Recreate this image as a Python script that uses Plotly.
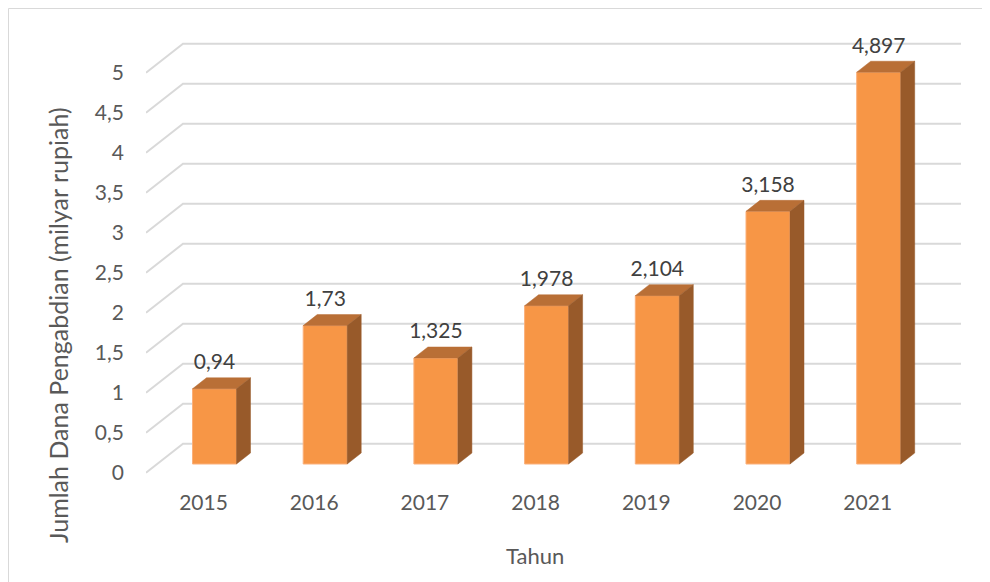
import plotly.graph_objects as go

# ---- data ----
years = ["2015", "2016", "2017", "2018", "2019", "2020", "2021"]
dana = [0.94, 1.73, 1.325, 1.978, 2.104, 3.158, 4.897]
y_ticks = [0, 0.5, 1, 1.5, 2, 2.5, 3, 3.5, 4, 4.5, 5]
y_ticktext = ["0", "0,5", "1", "1,5", "2", "2,5", "3", "3,5", "4", "4,5", "5"]
labels = [str(v).replace(".", ",") for v in dana]

# ---- pseudo-3D geometry (in axis units) ----
X0, X1 = -0.5194, 6.879      # x range (front plane)
Y0, Y1 = -0.166, 5.659       # y range (front plane)
WDX, WDY = 0.3342, 0.3625    # back wall offset
WALL_END = 6.843
BOFF_X, BOFF_Y = 0.0994, 0.109   # bar front offset from front plane
BW = 0.3975                  # bar front width
DDX, DDY = 0.1265, 0.1375    # bar depth offset

FRONT = "#F79646"
FRONT_EDGE = "#FBB07A"
TOP = "#B96F36"
SIDE = "#985A2A"
GRID = "#D9D9D9"
TXT = "#595959"
FONT = "Lato, Calibri, sans-serif"

xi = list(range(len(years)))

# gridlines (diagonal + back wall)
gx, gy = [], []
for t in y_ticks:
    gx += [X0, X0 + WDX, WALL_END, None]
    gy += [t, t + WDY, t + WDY, None]

# front, top and side faces
fx, fy, tx, ty, sx, sy = [], [], [], [], [], []
for i, v in zip(xi, dana):
    xl = i + BOFF_X - BW / 2
    xr = i + BOFF_X + BW / 2
    top = v + BOFF_Y
    fx += [xl, xr, xr, xl, xl, None]
    fy += [BOFF_Y, BOFF_Y, top, top, BOFF_Y, None]
    tx += [xl, xr, xr + DDX, xl + DDX, xl, None]
    ty += [top, top, top + DDY, top + DDY, top, None]
    sx += [xr, xr, xr + DDX, xr + DDX, xr, None]
    sy += [BOFF_Y, top, top + DDY, BOFF_Y + DDY, BOFF_Y, None]

fig = go.Figure()
fig.add_trace(go.Scatter(x=gx, y=gy, mode="lines", line=dict(color=GRID, width=2),
                         hoverinfo="skip", showlegend=False))
fig.add_trace(go.Scatter(x=fx, y=fy, mode="lines", fill="toself", fillcolor=FRONT,
                         line=dict(color=FRONT_EDGE, width=1), hoverinfo="skip", showlegend=False))
fig.add_trace(go.Scatter(x=tx, y=ty, mode="lines", fill="toself", fillcolor=TOP,
                         line=dict(color=TOP, width=0.5), hoverinfo="skip", showlegend=False))
fig.add_trace(go.Scatter(x=sx, y=sy, mode="lines", fill="toself", fillcolor=SIDE,
                         line=dict(color=SIDE, width=0.5), hoverinfo="skip", showlegend=False))
fig.add_trace(go.Scatter(x=[i + BOFF_X for i in xi], y=[v + BOFF_Y + 0.31 for v in dana],
                         mode="text", text=labels, textposition="middle center",
                         textfont=dict(family=FONT, size=21, color="#404040"),
                         hoverinfo="skip", showlegend=False))

# page body has an 8px margin; margins account for it
L, R, T, B = 138, 33, 12, 104
PW, PH = 990 - L - R, 582 - T - B

fig.update_layout(
    width=990, height=582,
    margin=dict(l=L, r=R, t=T, b=B),
    paper_bgcolor="white", plot_bgcolor="white",
    font=dict(family=FONT, size=21, color=TXT),
    xaxis=dict(range=[X0, X1], tickmode="array", tickvals=xi, ticktext=years,
               showgrid=False, zeroline=False, showline=False, ticks="",
               ticklabelstandoff=2, tickfont=dict(size=21, color=TXT)),
    yaxis=dict(range=[Y0, Y1], tickmode="array", tickvals=y_ticks, ticktext=y_ticktext,
               showgrid=False, zeroline=False, showline=False, ticks="",
               ticklabelstandoff=21, tickfont=dict(size=21, color=TXT)),
    annotations=[
        dict(text="Jumlah Dana Pengabdian (milyar rupiah)", textangle=-90,
             xref="paper", yref="paper", x=(50 - L) / PW, y=(478 - 317) / PH,
             xanchor="center", yanchor="middle", showarrow=False,
             font=dict(family=FONT, size=25, color=TXT)),
        dict(text="Tahun", xref="paper", yref="paper", x=(527 - L) / PW,
             y=(478 - 547) / PH, xanchor="center", yanchor="middle", showarrow=False,
             font=dict(family=FONT, size=22, color=TXT)),
    ],
    shapes=[dict(type="rect", xref="paper", yref="paper",
                 x0=(0.5 - L) / PW, x1=(1100 - L) / PW, y0=(478 - 700) / PH, y1=(478 - 0.5) / PH,
                 line=dict(color="#D9D9D9", width=1), fillcolor="rgba(0,0,0,0)", layer="below")],
)

fig.write_html("out.html")
